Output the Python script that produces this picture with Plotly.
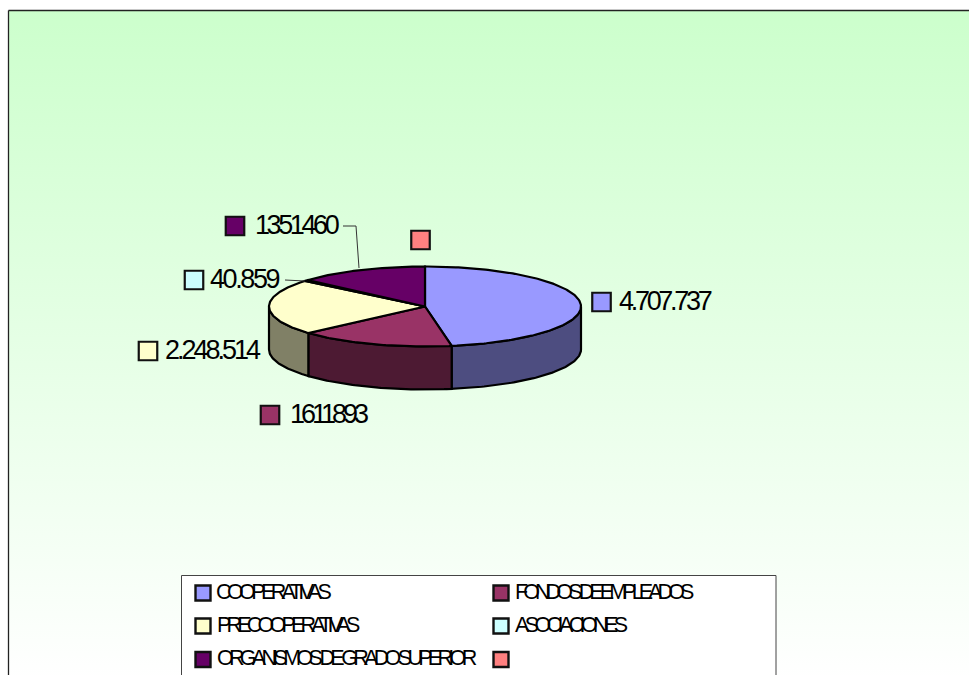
import numpy as np
import plotly.graph_objects as go

# ---- data ----
categories = ["COOPERATIVAS", "FONDOS DE EMPLEADOS", "PRECOOPERATIVAS",
              "ASOCIACIONES", "ORGANISMOS DE GRADO SUPERIOR", ""]
values = [4707737, 1611893, 2248514, 40859, 1351460, 0]
value_labels = ["4.707.737", "1611893", "2.248.514", "40.859", "1351460", ""]
top_colors = ["#9999FF", "#993366", "#FFFFCC", "#CCFFFF", "#660066", "#FF8080"]
side_colors = ["#4D4D80", "#4D1A33", "#808066", "#668080", "#330033", "#804040"]

# ---- layout constants (page pixels) ----
W, H = 969, 675
CX, CY, RX, RY, DEPTH = 425, 306.5, 156, 40, 43
swatch_pos = [(601.5, 302), (270, 415), (148, 351), (194, 280), (235, 226), (420.5, 240)]
label_pos = [(617, 301), (288, 414), (163, 350), (208, 279), (253, 225), None]
label_spacing = [-3.3, -4.0, -3.0, -2.4, -3.4, 0]
legend_swatch = [(203, 593), (501, 593), (203, 626), (501, 626), (203, 659.5), (501, 659.5)]
legend_text = [(214, 592), (513, 592), (215, 625), (513, 625), (215, 658), None]
legend_spacing = [-4.6, -4.9, -4.8, -4.6, -4.7, 0]


def rim(a0, a1, dy=0.0):
    n = max(int(abs(a1 - a0) * 60) + 2, 2)
    t = np.linspace(a0, a1, n)
    return CX + RX * np.sin(t), CY - RY * np.cos(t) + dy


def poly(x, y, **kw):
    return go.Scatter(x=list(x), y=list(y), mode="lines", fill="toself",
                      hoverinfo="skip", showlegend=False, **kw)


fig = go.Figure()

# chart area with vertical gradient
fig.add_trace(go.Scatter(
    x=[8.5, 1100, 1100, 8.5, 8.5], y=[10.5, 10.5, 720, 720, 10.5], mode="lines", fill="toself",
    line=dict(color="#222222", width=1.3),
    fillgradient=dict(type="vertical", start=10, stop=680,
                      colorscale=[[0, "#CCFFCC"], [1, "#FFFFFF"]]),
    hoverinfo="skip", showlegend=False))

total = float(sum(values))
edges = np.concatenate([[0.0], np.cumsum(values)]) / total * 2 * np.pi

# side wall (front half only)
for i in range(len(values)):
    a0 = max(edges[i], np.pi / 2)
    a1 = min(edges[i + 1], 3 * np.pi / 2)
    if a1 <= a0:
        continue
    tx, ty = rim(a0, a1)
    bx, by = rim(a1, a0, DEPTH)
    fig.add_trace(poly(np.r_[tx, bx, tx[0]], np.r_[ty, by, ty[0]],
                       fillcolor=side_colors[i], line=dict(color="#000000", width=2.2)))

# top face
for i in range(len(values)):
    if values[i] <= 0:
        continue
    rx, ry = rim(edges[i], edges[i + 1])
    fig.add_trace(poly(np.r_[CX, rx, CX], np.r_[CY, ry, CY],
                       fillcolor=top_colors[i], line=dict(color="#000000", width=2.2)))

# leader lines
fig.add_trace(go.Scatter(x=[343, 356, 359], y=[226, 226, 268], mode="lines",
                         line=dict(color="#333333", width=1), hoverinfo="skip", showlegend=False))
fig.add_trace(go.Scatter(x=[285, 305], y=[280, 281], mode="lines",
                         line=dict(color="#333333", width=1), hoverinfo="skip", showlegend=False))

# data-label keys
fig.add_trace(go.Scatter(
    x=[p[0] for p in swatch_pos], y=[p[1] for p in swatch_pos], mode="markers",
    marker=dict(symbol="square", size=18.5, color=top_colors, line=dict(color="#111111", width=2.2)),
    hoverinfo="skip", showlegend=False))

# legend box
fig.add_trace(poly([181.5, 776, 776, 181.5, 181.5], [575.5, 575.5, 720, 720, 575.5],
                   fillcolor="#FFFFFF", line=dict(color="#444444", width=1)))
fig.add_trace(go.Scatter(
    x=[p[0] for p in legend_swatch], y=[p[1] for p in legend_swatch], mode="markers",
    marker=dict(symbol="square", size=15, color=top_colors, line=dict(color="#111111", width=2.4)),
    hoverinfo="skip", showlegend=False))

annotations = []
for txt, p, sp in zip(value_labels, label_pos, label_spacing):
    if p is None:
        continue
    annotations.append(dict(
        x=p[0], y=p[1], xref="x", yref="y", xanchor="left", yanchor="middle", showarrow=False,
        text=f'<span style="letter-spacing:{sp}px">{txt}</span>',
        font=dict(family="Liberation Sans", size=27, color="#000000")))
for txt, p, sp in zip(categories, legend_text, legend_spacing):
    if p is None:
        continue
    annotations.append(dict(
        x=p[0], y=p[1], xref="x", yref="y", xanchor="left", yanchor="middle", showarrow=False,
        text=f'<span style="letter-spacing:{sp}px">{txt}</span>',
        font=dict(family="Liberation Sans", size=21.5, color="#000000")))

fig.update_layout(
    width=W, height=H,
    margin=dict(l=0, r=0, t=0, b=0),
    paper_bgcolor="#FFFFFF", plot_bgcolor="#FFFFFF",
    xaxis=dict(range=[0, W], visible=False, fixedrange=True),
    yaxis=dict(range=[H, 0], visible=False, fixedrange=True),
    annotations=annotations,
    showlegend=False,
)
fig.write_html("out.html", config={"displayModeBar": False},
               post_script="document.body.style.margin='0';document.documentElement.style.overflow='hidden';")
